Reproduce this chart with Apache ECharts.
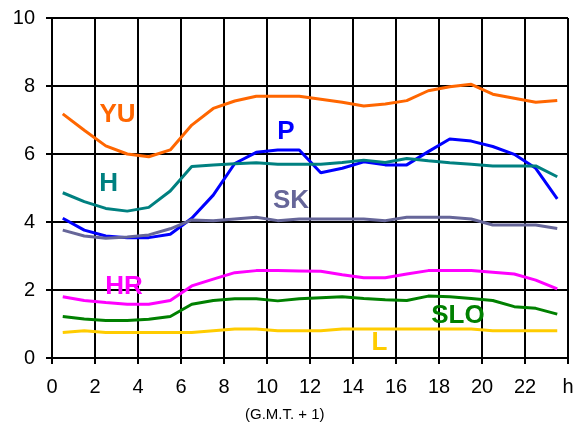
<!DOCTYPE html>
<html><head><meta charset="utf-8">
<script src="https://cdn.jsdelivr.net/npm/echarts@6/dist/echarts.min.js"></script>
<style>html,body{margin:0;padding:0;background:#fff}#c{width:582px;height:424px}</style>
</head><body><div id="c"></div>
<script>
var hours = [0.5,1.5,2.5,3.5,4.5,5.5,6.5,7.5,8.5,9.5,10.5,11.5,12.5,13.5,14.5,15.5,16.5,17.5,18.5,19.5,20.5,21.5,22.5,23.5];
var xTicks = ['0','2','4','6','8','10','12','14','16','18','20','22','h'];
var YU  = [7.18,6.7,6.24,6.0,5.92,6.12,6.85,7.34,7.56,7.7,7.7,7.7,7.61,7.52,7.41,7.47,7.57,7.86,7.98,8.05,7.76,7.64,7.52,7.57];
var P   = [4.11,3.76,3.59,3.54,3.54,3.64,4.11,4.79,5.72,6.05,6.12,6.12,5.45,5.58,5.77,5.68,5.68,6.07,6.44,6.38,6.22,5.99,5.58,4.68];
var H   = [4.86,4.6,4.4,4.32,4.43,4.91,5.63,5.68,5.71,5.74,5.7,5.7,5.7,5.75,5.82,5.75,5.87,5.8,5.74,5.7,5.65,5.65,5.65,5.33];
var SK  = [3.76,3.59,3.52,3.56,3.62,3.8,4.06,4.04,4.09,4.14,4.04,4.09,4.09,4.09,4.09,4.04,4.14,4.14,4.14,4.09,3.91,3.91,3.91,3.81];
var HR  = [1.8,1.69,1.63,1.58,1.58,1.69,2.12,2.32,2.51,2.57,2.57,2.56,2.55,2.45,2.36,2.36,2.47,2.57,2.57,2.57,2.52,2.47,2.29,2.03];
var SLO = [1.22,1.15,1.1,1.1,1.14,1.22,1.58,1.69,1.74,1.74,1.68,1.74,1.77,1.8,1.75,1.71,1.69,1.82,1.8,1.75,1.69,1.51,1.46,1.29];
var L   = [0.75,0.8,0.75,0.75,0.75,0.75,0.75,0.8,0.85,0.85,0.8,0.8,0.8,0.85,0.85,0.85,0.85,0.85,0.85,0.85,0.8,0.8,0.8,0.8];
var names = ['YU','P','H','SK','HR','SLO','L'];
var values = [YU,P,H,SK,HR,SLO,L];
var colors = ['#FF6600','#0000FF','#008080','#666699','#FF00FF','#008000','#FFCC00'];
var labelAt = {YU:[3.05,7.15],P:[10.88,6.66],H:[2.63,5.12],SK:[11.12,4.62],HR:[3.35,2.1],SLO:[18.88,1.24],L:[15.23,0.44]};
var font = 'Liberation Sans, Arial, sans-serif';

var series = names.map(function(n,i){
  return {
    name:n, type:'line', showSymbol:false, symbol:'none',
    data: hours.map(function(h,k){return [h, values[i][k]];}),
    lineStyle:{color:colors[i], width:3}, itemStyle:{color:colors[i]},
    markPoint:{
      symbol:'rect', symbolSize:1, itemStyle:{color:'rgba(0,0,0,0)'},
      label:{show:true, position:'inside', formatter:n, color:colors[i], fontSize:26, fontWeight:'bold', fontFamily:font},
      data:[{coord:labelAt[n]}]
    }
  };
});

var chart = echarts.init(document.getElementById('c'), null, {renderer:'canvas'});
chart.setOption({
  animation:false,
  title:{text:'(G.M.T. + 1)', left:240, top:402, textStyle:{fontSize:15, fontWeight:'normal', color:'#000', fontFamily:font}},
  grid:{left:52, right:14, top:18, bottom:66},
  xAxis:{type:'value', min:0, max:24, interval:2,
    axisLine:{lineStyle:{color:'#000', width:2}},
    axisTick:{show:true, length:6, lineStyle:{color:'#000', width:2}},
    axisLabel:{color:'#000', fontSize:20, fontFamily:font, margin:19, formatter:function(v){return xTicks[Math.round(v/2)];}},
    splitLine:{show:true, lineStyle:{color:'#000', width:2}}
  },
  yAxis:{type:'value', min:0, max:10, interval:2,
    axisLine:{show:true, lineStyle:{color:'#000', width:2}},
    axisTick:{show:true, length:6, lineStyle:{color:'#000', width:2}},
    axisLabel:{color:'#000', fontSize:20, fontFamily:font, margin:17},
    splitLine:{show:true, lineStyle:{color:'#000', width:2}}
  },
  series:series
});
</script></body></html>
